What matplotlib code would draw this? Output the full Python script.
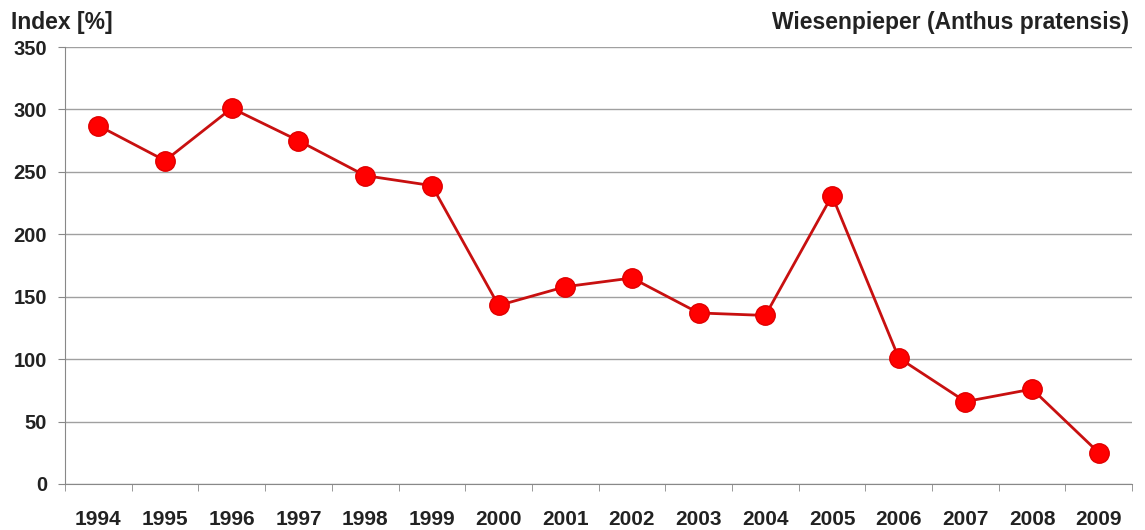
""" Wiesenpieper index 1994-2009, line chart with red dots
"""

import numpy as np
import matplotlib
matplotlib.use("Agg")
import matplotlib.pyplot as plt

plt.rcParams['font.family'] = ['Liberation Sans', 'DejaVu Sans']

years = ['1994', '1995', '1996', '1997', '1998', '1999', '2000', '2001',
         '2002', '2003', '2004', '2005', '2006', '2007', '2008', '2009']
index_values = [287, 259, 301, 275, 247, 239, 143, 158,
                165, 137, 135, 231, 101, 66, 76, 25]
y_ticks = [0, 50, 100, 150, 200, 250, 300, 350]

fig = plt.figure(figsize=(11.45, 5.30), dpi=100)
ax = fig.add_axes([0.0568, 0.0868, 0.932, 0.8245])

x = np.arange(len(years))
ax.plot(x, index_values, color='#c81010', lw=2, marker='o', markersize=14,
        markerfacecolor='#ff0000', markeredgecolor='#e00000', markeredgewidth=1,
        zorder=3)

ax.set_xlim(-0.5, len(years) - 0.5)
ax.set_ylim(0, 350)
ax.set_yticks(y_ticks)
ax.set_yticklabels([str(v) for v in y_ticks], fontsize=14.5, fontweight='bold',
                   color='#222222')
# category labels at centers, tick marks at boundaries
ax.set_xticks(x)
ax.set_xticklabels(years, fontsize=15, fontweight='bold', color='#222222')
ax.tick_params(axis='x', length=0, pad=19)
ax.set_xticks(np.arange(-0.5, len(years)), minor=True)
ax.tick_params(axis='x', which='minor', length=5, direction='out',
               color='#888888')
ax.tick_params(axis='y', length=5, color='#888888', pad=8)

ax.grid(axis='y', color='#a0a0a0', lw=1)
ax.set_axisbelow(True)
for s in ['top', 'right']:
    ax.spines[s].set_visible(False)
ax.spines['left'].set_color('#888888')
ax.spines['bottom'].set_color('#888888')

fig.text(11 / 1145, 1 - 22 / 530, 'Index [%]', fontsize=16.5, fontweight='bold',
         color='#222222', va='center', ha='left')
fig.text(1129 / 1145, 1 - 22 / 530, 'Wiesenpieper (Anthus pratensis)',
         fontsize=16.5, fontweight='bold', color='#222222', va='center', ha='right')

plt.savefig('out.png', dpi=100)
